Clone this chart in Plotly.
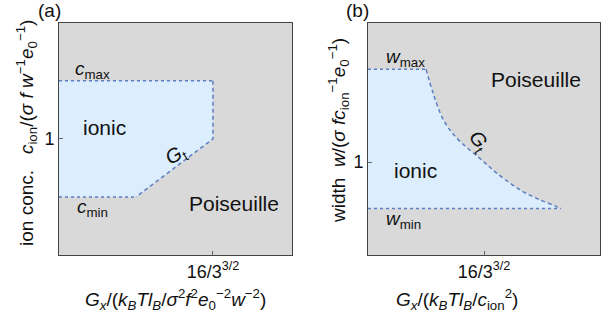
import plotly.graph_objects as go

# ---------------- data ----------------
G0 = 3.079  # 16/3^(3/2)
tick_x_vals = [G0]
tick_x_text = ["16/3<sup>3/2</sup>"]
tick_y_vals = [1]
tick_y_text = ["1"]

# panel (a): ion concentration
a_c_min = 0.5
a_c_max = 1.5
a_gt_gx = [3.079, 3.079, 1.54]     # G_t boundary (x)
a_gt_c = [1.5, 1.0, 0.5]           # G_t boundary (y)

# panel (b): width
b_w_min = 0.5
b_w_max = 2.0
b_gt_gx = [1.54, 1.73, 2.00, 2.35, 2.97, 3.42, 4.04, 4.57, 5.01, 5.07]
b_gt_w = [2.00, 1.74, 1.455, 1.26, 1.04, 0.88, 0.70, 0.593, 0.52, 0.50]
b_dot_end = 5.12

# ---------------- style ----------------
FONT = "Liberation Sans"
BG = "#d9d9d9"
FILL = "#dcedfd"
LINE = "#5b7fc0"
W, H = 616, 328

fig = go.Figure()

# panel a fill
ax_poly = [0] + a_gt_gx + [0]
ay_poly = [a_c_max] + a_gt_c + [a_c_min]
fig.add_trace(go.Scatter(x=ax_poly, y=ay_poly, fill="toself", fillcolor=FILL,
                         line=dict(width=0), mode="lines", hoverinfo="skip",
                         xaxis="x", yaxis="y", showlegend=False))
fig.add_trace(go.Scatter(x=[0, a_gt_gx[0]], y=[a_c_max, a_c_max], mode="lines",
                         line=dict(color=LINE, width=1.5, dash="dot"),
                         xaxis="x", yaxis="y", showlegend=False))
fig.add_trace(go.Scatter(x=[0, a_gt_gx[-1]], y=[a_c_min, a_c_min], mode="lines",
                         line=dict(color=LINE, width=1.5, dash="dot"),
                         xaxis="x", yaxis="y", showlegend=False))
fig.add_trace(go.Scatter(x=a_gt_gx, y=a_gt_c, mode="lines",
                         line=dict(color=LINE, width=1.5, dash="4px,3px"),
                         xaxis="x", yaxis="y", showlegend=False))

# panel b fill
bx_poly = [0] + b_gt_gx + [0]
by_poly = [b_w_max] + b_gt_w + [b_w_min]
fig.add_trace(go.Scatter(x=bx_poly, y=by_poly, fill="toself", fillcolor=FILL,
                         line=dict(width=0), mode="lines", hoverinfo="skip",
                         xaxis="x2", yaxis="y2", showlegend=False))
fig.add_trace(go.Scatter(x=[0, b_gt_gx[0]], y=[b_w_max, b_w_max], mode="lines",
                         line=dict(color=LINE, width=1.5, dash="dot"),
                         xaxis="x2", yaxis="y2", showlegend=False))
fig.add_trace(go.Scatter(x=[0, b_dot_end], y=[b_w_min, b_w_min], mode="lines",
                         line=dict(color=LINE, width=1.5, dash="dot"),
                         xaxis="x2", yaxis="y2", showlegend=False))
fig.add_trace(go.Scatter(x=b_gt_gx, y=b_gt_w, mode="lines", line_shape="spline",
                         line=dict(color=LINE, width=1.5, dash="4px,3px"),
                         xaxis="x2", yaxis="y2", showlegend=False))

def px(x):
    return x / W

def py(y):
    return 1 - y / H

axis_common = dict(showgrid=False, zeroline=False, showline=True, mirror=True,
                   linecolor="#444", linewidth=1, ticks="inside", ticklen=4,
                   tickcolor="#666", tickfont=dict(family=FONT, size=18, color="#111"))

fig.update_layout(
    width=W, height=H, margin=dict(l=0, r=0, t=0, b=0),
    paper_bgcolor="white", plot_bgcolor=BG,
    font=dict(family=FONT, size=18, color="#111"),
    xaxis=dict(domain=[px(59), px(292)], range=[0, 4.66], anchor="y",
               tickvals=tick_x_vals, ticktext=tick_x_text, **axis_common),
    yaxis=dict(domain=[py(255), py(22.7)], range=[0, 2.0], anchor="x",
               tickvals=tick_y_vals, ticktext=tick_y_text, **axis_common),
    xaxis2=dict(domain=[px(368), px(600)], range=[0, 6.158], anchor="y2",
                tickvals=tick_x_vals, ticktext=tick_x_text, **axis_common),
    yaxis2=dict(domain=[py(255), py(22.7)], range=[0, 2.5], anchor="x2",
                tickvals=tick_y_vals, ticktext=tick_y_text, **axis_common),
)

def note(text, x, y, size=19, angle=0):
    fig.add_annotation(text=text, x=px(x), y=py(y), xref="paper", yref="paper",
                       showarrow=False, textangle=angle,
                       font=dict(family=FONT, size=size, color="#111"),
                       xanchor="center", yanchor="middle")

# panel labels
note("(a)", 49, 10)
note("(b)", 357, 10)

# panel a texts
note("<i>c</i><sub>max</sub>", 92, 70)
note("<i>c</i><sub>min</sub>", 92, 208)
note("ionic", 105, 127, size=21)
note("Poiseuille", 234, 203, size=21)
note("<i>G</i><sub>t</sub>", 176, 155, size=20, angle=-30)
note("<i>G<sub>x</sub></i>/(<i>k<sub>B</sub>Tl<sub>B</sub></i>/<i>σ</i><sup>2</sup><i>f</i><sup>2</sup><i>e</i><sub>0</sub><sup>−2</sup><i>w</i><sup>−2</sup>)",
     175, 299)
note("ion conc.   <i>c</i><sub>ion</sub>/(<i>σ f w</i><sup>−1</sup><i>e</i><sub>0</sub><sup>−1</sup>)",
     26, 133, angle=-90)

# panel b texts
note("<i>w</i><sub>max</sub>", 405, 58)
note("<i>w</i><sub>min</sub>", 403, 220)
note("ionic", 415, 170, size=21)
note("Poiseuille", 536, 79, size=21)
note("<i>G</i><sub>t</sub>", 478, 142, size=20, angle=55)
note("<i>G<sub>x</sub></i>/(<i>k<sub>B</sub>Tl<sub>B</sub></i>/<i>c</i><sub>ion</sub><sup>2</sup>)",
     457, 299)
note("width  <i>w</i>/(<i>σ fc</i><sub>ion</sub><sup>−1</sup><i>e</i><sub>0</sub><sup>−1</sup>)",
     338, 131, angle=-90)

fig.write_html("out.html", config={"displayModeBar": False},
               post_script="document.body.style.margin='0px';")
